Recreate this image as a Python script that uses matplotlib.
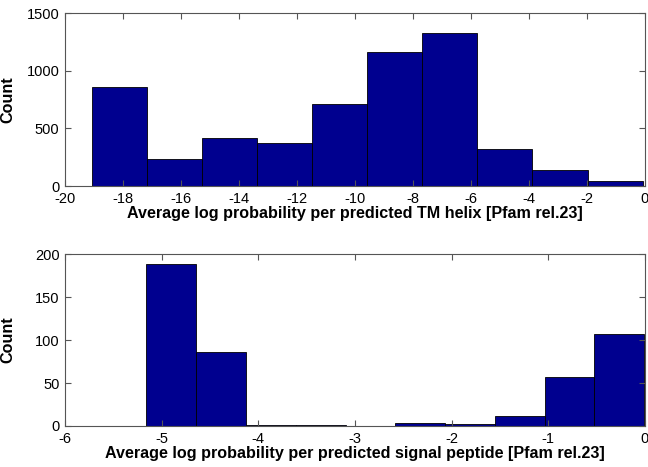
import matplotlib
matplotlib.use("Agg")
import matplotlib.pyplot as plt
import numpy as np

plt.rcParams['font.family'] = ['Liberation Sans', 'DejaVu Sans']
plt.rcParams['axes.unicode_minus'] = False

# Top histogram: TM helix
tm_edges = [-19.08, -17.18, -15.28, -13.38, -11.48, -9.58, -7.68, -5.78, -3.88, -1.98, -0.08]
tm_counts = [858, 237, 419, 375, 711, 1161, 1332, 318, 141, 46]
tm_xticks = [-20, -18, -16, -14, -12, -10, -8, -6, -4, -2, 0]
tm_yticks = [0, 500, 1000, 1500]
tm_xlabel = "Average log probability per predicted TM helix [Pfam rel.23]"

# Bottom histogram: signal peptide
sp_edges = [-5.158, -4.643, -4.128, -3.613, -3.098, -2.583, -2.068, -1.553, -1.038, -0.523, -0.008]
sp_counts = [188, 86, 1, 1, 0, 3.5, 2, 12, 57, 107]
sp_xticks = [-6, -5, -4, -3, -2, -1, 0]
sp_yticks = [0, 50, 100, 150, 200]
sp_xlabel = "Average log probability per predicted signal peptide [Pfam rel.23]"

bar_color = '#00008F'
spine_color = '#555555'

fig = plt.figure(figsize=(6.48, 4.67), dpi=100)
ax1 = fig.add_axes([0.1003, 0.6017, 0.895, 0.370])
ax2 = fig.add_axes([0.1003, 0.0878, 0.895, 0.368])

def draw(ax, edges, counts, xticks, yticks, xlabel, xlim, ylim):
    edges = np.array(edges)
    ax.bar(edges[:-1], counts, width=np.diff(edges), align='edge',
           color=bar_color, edgecolor='black', linewidth=0.6)
    ax.set_xlim(*xlim)
    ax.set_ylim(*ylim)
    ax.set_xticks(xticks)
    ax.set_yticks(yticks)
    ax.tick_params(direction='in', top=True, right=True, length=4,
                   labelsize=10.5, color=spine_color)
    ax.tick_params(axis='x', pad=4.5)
    ax.tick_params(axis='y', pad=4)
    for s in ax.spines.values():
        s.set_color(spine_color)
        s.set_linewidth(0.8)
    ax.set_xlabel(xlabel, fontsize=11.6, fontweight='bold', labelpad=0)
    ax.set_ylabel('Count', fontsize=11.6, fontweight='bold')
    ax.yaxis.set_label_coords(-0.086, 0.5)

draw(ax1, tm_edges, tm_counts, tm_xticks, tm_yticks, tm_xlabel, (-20, 0), (0, 1500))
draw(ax2, sp_edges, sp_counts, sp_xticks, sp_yticks, sp_xlabel, (-6, 0), (0, 200))

fig.savefig('out.png', dpi=100)
